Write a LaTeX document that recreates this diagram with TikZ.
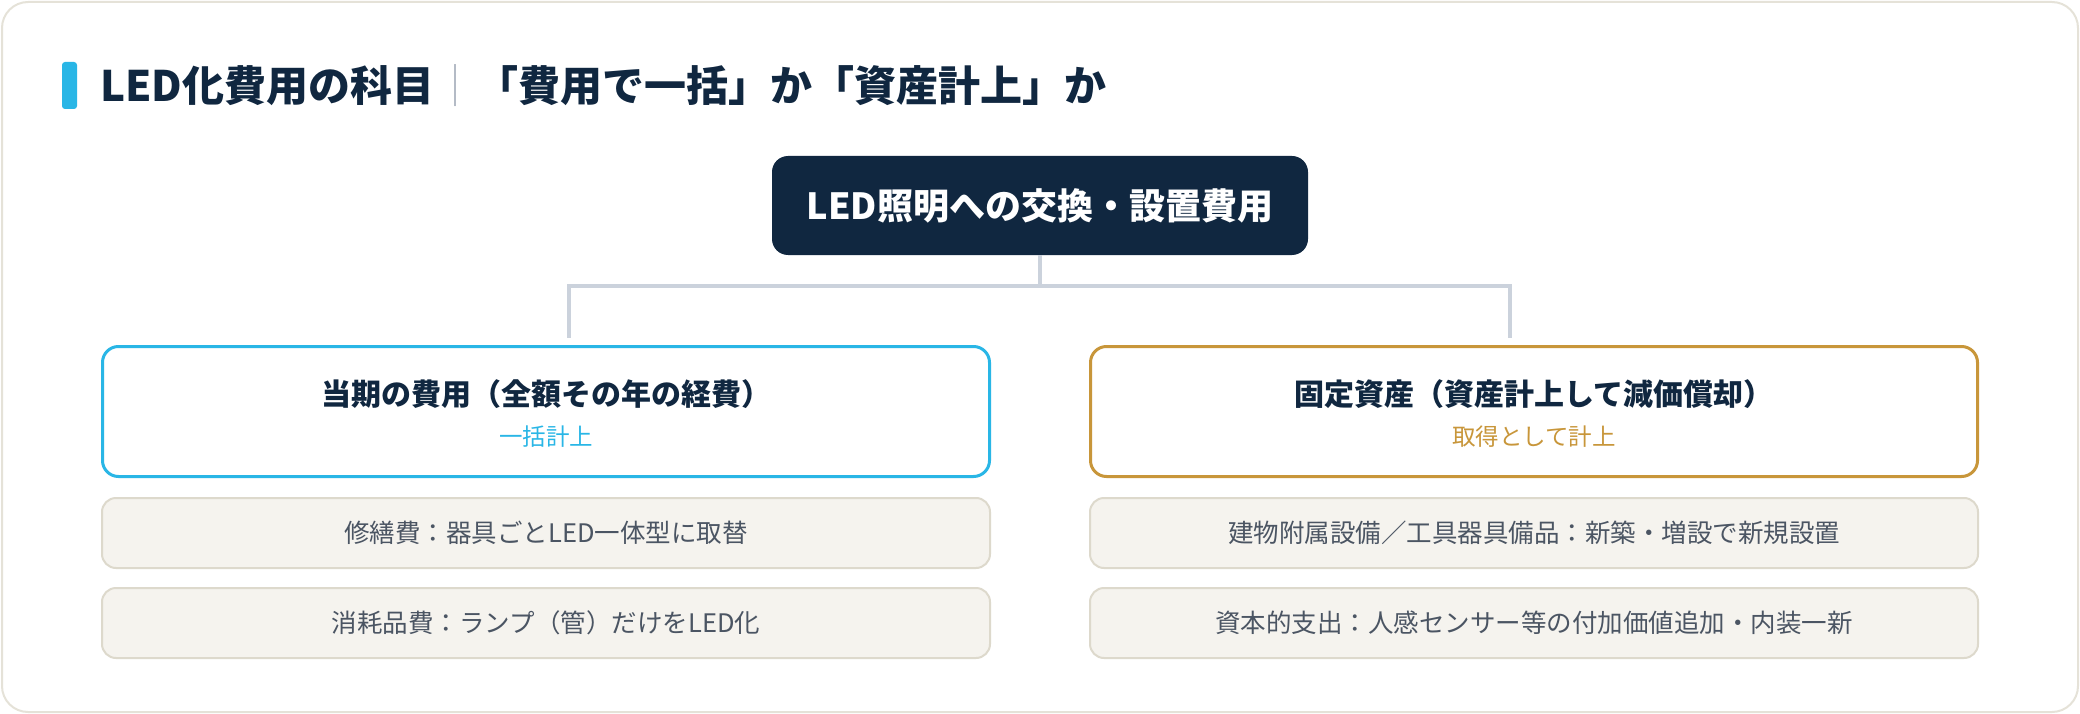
\documentclass[tikz,border=0pt]{standalone}
\usepackage{fontspec}
\setmainfont{Noto Sans CJK JP}
\definecolor{navy}{RGB}{16, 39, 64}
\definecolor{ledcyan}{RGB}{41, 182, 230}
\definecolor{assetgold}{RGB}{200, 150, 58}
\definecolor{itemfill}{RGB}{245, 243, 238}
\definecolor{itemline}{RGB}{221, 217, 204}
\definecolor{itemtext}{RGB}{75, 85, 99}
\definecolor{linkgray}{RGB}{203, 210, 220}
\definecolor{framebeige}{RGB}{229, 226, 216}
\definecolor{sepgray}{RGB}{170, 178, 190}
\usepackage{tikz}
\usetikzlibrary{positioning, calc}

\begin{document}
\begin{tikzpicture}[x=1pt, y=-1pt,
  headbox/.style={fill=navy, text=white, rounded corners=16pt, minimum width=536pt, minimum height=99pt, font=\fontsize{36}{43}\selectfont\bfseries},
  catbox/.style={draw, line width=3pt, fill=white, rounded corners=16pt, minimum width=887pt, minimum height=130pt},
  cathead/.style={text=navy, inner sep=0pt, font=\fontsize{30}{36}\selectfont\bfseries},
  catsub/.style={inner sep=0pt, font=\fontsize{23.5}{28}\selectfont},
  itembox/.style={draw=itemline, fill=itemfill, line width=2pt, rounded corners=14pt, minimum width=888pt, minimum height=70pt, text=itemtext, font=\fontsize{25.5}{30}\selectfont},
  link/.style={draw=linkgray, line width=3.5pt}]

  \useasboundingbox (0,0) rectangle (2080,714);
  \draw[framebeige, line width=2pt, fill=white, rounded corners=26pt] (2,2) rectangle (2078,712);

  % Title
  \node[fill=ledcyan, rounded corners=3pt, minimum width=15pt, minimum height=47pt, inner sep=0pt] (titlebar) at (69.5,85.5) {};
  \node[anchor=west, inner sep=0pt, text=navy, font=\fontsize{42}{50}\selectfont\bfseries] (title) at (100,86)
    {LED化費用の科目{\mdseries\color{sepgray}｜}「費用で一括」か「資産計上」か};

  % Root
  \node[headbox] (root) at (1040,205.5) {LED照明への交換・設置費用};

  % Connectors
  \coordinate (hub) at (1040,286);
  \coordinate (ljoint) at (569,338);
  \coordinate (rjoint) at (1510,338);
  \draw[link] (root.south) -- (hub);
  \draw[link] (hub) -| (ljoint);
  \draw[link] (hub) -| (rjoint);

  % Expense side
  \node[catbox, draw=ledcyan] (lcat) at (546,411.5) {};
  \node[cathead] (lcathead) at ($(lcat.center)+(0,-17.5)$) {当期の費用（全額その年の経費）};
  \node[catsub, text=ledcyan] (lcatsub) at ($(lcat.center)+(0,25.5)$) {一括計上};
  \node[itembox] (repair) at (546,533) {修繕費：器具ごとLED一体型に取替};
  \node[itembox] (supply) at (546,623) {消耗品費：ランプ（管）だけをLED化};

  % Asset side
  \node[catbox, draw=assetgold] (rcat) at (1534,411.5) {};
  \node[cathead] (rcathead) at ($(rcat.center)+(0,-17.5)$) {固定資産（資産計上して減価償却）};
  \node[catsub, text=assetgold] (rcatsub) at ($(rcat.center)+(0,25.5)$) {取得として計上};
  \node[itembox] (building) at (1534,533) {建物附属設備／工具器具備品：新築・増設で新規設置};
  \node[itembox] (capital) at (1534,623) {資本的支出：人感センサー等の付加価値追加・内装一新};
\end{tikzpicture}
\end{document}
